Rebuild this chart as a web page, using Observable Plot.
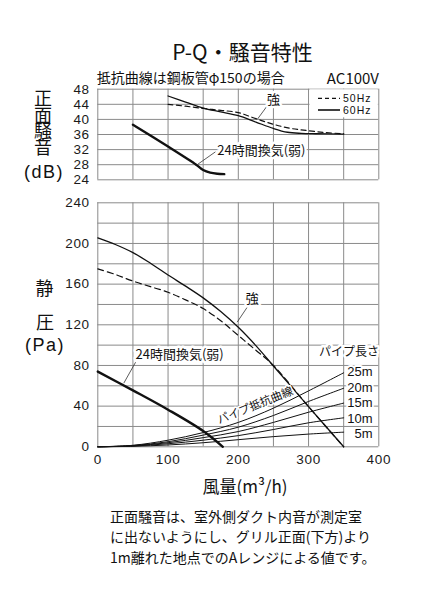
<!DOCTYPE html>
<html><head><meta charset="utf-8">
<script src="https://cdn.jsdelivr.net/npm/d3@7"></script>
<script src="https://cdn.jsdelivr.net/npm/@observablehq/plot@0.6"></script>
<style>
html,body{margin:0;padding:0;background:#fff;}
#root{position:relative;width:437px;height:596px;overflow:hidden;font-family:'Noto Sans CJK JP','Noto Sans',sans-serif;}
#root svg{position:absolute;left:0;}
</style></head><body><div id="root"></div>
<script>
// ---------- data ----------
const qTicks = [0, 100, 200, 300, 400];
const qGrid = [0, 50, 100, 150, 200, 250, 300, 350, 400];
const dbTicks = [24, 28, 32, 36, 40, 44, 48];
const paTicks = [0, 40, 80, 120, 160, 200, 240];
const paGrid = [0, 20, 40, 60, 80, 100, 120, 140, 160, 180, 200, 220, 240];

// noise (top chart)
const noiseQ60 = [100, 125, 150, 175, 200, 225, 250, 270, 290, 310, 350];
const noiseDb60 = [46.2, 44.6, 43.0, 42.0, 41.0, 39.3, 37.6, 36.6, 36.3, 36.2, 36.1];
const noiseQ50 = [100, 125, 150, 175, 200, 225, 250, 275, 300, 325, 350];
const noiseDb50 = [44.0, 43.5, 42.9, 42.4, 41.8, 40.2, 38.7, 37.6, 37.0, 36.5, 36.2];
const noiseQWeak = [50, 100, 140, 150, 160, 170, 180];
const noiseDbWeak = [38.6, 32.8, 28.0, 26.6, 25.9, 25.6, 25.5];

// P-Q (main chart)
const pqQStrong = [0, 25, 50, 75, 100, 125, 150, 175, 200, 225, 250, 300, 350];
const pqPa60 = [205.5, 199, 191, 180.5, 169, 158, 146.5, 133, 117.5, 99.5, 79.5, 39.5, 0];
const pqPa50 = [175, 169.5, 163, 157.5, 152, 144.5, 136, 124, 109.5, 95, 80, 39.5, 0];
const pqQWeak = [0, 50, 100, 150, 178];
const pqPaWeak = [74, 55.5, 36.5, 15.5, 0];

// pipe resistance curves
const pipeQ = [0, 50, 100, 150, 200, 250, 300, 350];
const pipeNames = ["25m", "20m", "15m", "10m", "5m"];
const pipe25 = [0, 1.5, 6.5, 14, 24, 38, 55, 72.8];
const pipe20 = [0, 1.2, 5, 11.5, 19.3, 30.8, 44.6, 57.6];
const pipe15 = [0, 1, 4, 9, 15, 24, 34, 43];
const pipe10 = [0, 0.8, 3, 6.5, 11, 17, 23.6, 28.5];
const pipe5 = [0, 0.5, 1.8, 4, 7, 10, 12.5, 14.4];

// ---------- build ----------
const FONT = "'Noto Sans CJK JP','Noto Sans',sans-serif";
const NUMFONT = "'Liberation Sans',Arial,sans-serif";
const GRID = "#8a8a8a";
const INK = "#111";
const CURVE = "catmull-rom";
const rows = (xs, ys) => xs.map((x, i) => ({x, y: ys[i]}));
const root = document.getElementById("root");

const halo = {fill: INK, stroke: "white", strokeWidth: 5, paintOrder: "stroke", fontFamily: FONT};
const axisStyle = {fontFamily: NUMFONT, fontSize: "13.5px", color: "#1a1a1a", background: "transparent", overflow: "visible"};
function spaceTicks(svg) {
  svg.querySelectorAll('[aria-label^="y-axis"] text, [aria-label^="x-axis"] text')
    .forEach(t => t.setAttribute("letter-spacing", "0.7"));
}

// top noise chart
const topChart = Plot.plot({
  width: 437, height: 110,
  marginLeft: 97.3, marginRight: 58.7, marginTop: 8.7, marginBottom: 10.7,
  style: axisStyle,
  x: {domain: [0, 400], axis: null},
  y: {domain: [24, 48], ticks: dbTicks, tickSize: 0, tickPadding: 8, label: null},
  marks: [
    Plot.ruleX(qGrid, {stroke: GRID}),
    Plot.ruleY(dbTicks, {stroke: GRID}),
    Plot.line(rows(noiseQ50, noiseDb50), {x: "x", y: "y", stroke: INK, strokeWidth: 1.2, strokeDasharray: "5,3.5", curve: CURVE}),
    Plot.line(rows(noiseQ60, noiseDb60), {x: "x", y: "y", stroke: INK, strokeWidth: 1.3, curve: CURVE}),
    Plot.line(rows(noiseQWeak, noiseDbWeak), {x: "x", y: "y", stroke: INK, strokeWidth: 2.4, curve: CURVE}),
    Plot.link([0], {x1: 242, y1: 43.8, x2: 227, y2: 40, stroke: "#333", strokeWidth: 0.8}),
    Plot.link([0], {x1: 167.4, y1: 31.4, x2: 142.2, y2: 28.1, stroke: "#333", strokeWidth: 0.8}),
    Plot.text(["強"], {x: 250, y: 45.3, text: d => d, fontSize: 13, ...halo}),
    Plot.text(["24時間換気(弱)"], {x: 170, y: 31.7, text: d => d, textAnchor: "start", fontSize: 13, ...halo})
  ]
});
topChart.style.top = "80px";
spaceTicks(topChart);
root.appendChild(topChart);

// main P-Q chart
const mainChart = Plot.plot({
  width: 437, height: 290,
  marginLeft: 97.3, marginRight: 58.7, marginTop: 12.3, marginBottom: 33.7,
  style: axisStyle,
  x: {domain: [0, 400], ticks: qTicks, tickSize: 0, tickPadding: 8, label: null},
  y: {domain: [0, 240], ticks: paTicks, tickSize: 0, tickPadding: 8, label: null},
  marks: [
    Plot.ruleX(qGrid, {stroke: GRID}),
    Plot.ruleY(paGrid, {stroke: GRID}),
    ...[pipe25, pipe20, pipe15, pipe10, pipe5].map(p =>
      Plot.line(rows(pipeQ, p), {x: "x", y: "y", stroke: INK, strokeWidth: 1, curve: CURVE})),
    Plot.line(rows(pqQStrong, pqPa50), {x: "x", y: "y", stroke: INK, strokeWidth: 1.2, strokeDasharray: "6,4", curve: CURVE}),
    Plot.line(rows(pqQStrong, pqPa60), {x: "x", y: "y", stroke: INK, strokeWidth: 1.3, curve: CURVE}),
    Plot.line(rows(pqQWeak, pqPaWeak), {x: "x", y: "y", stroke: INK, strokeWidth: 2.4, curve: CURVE}),
    Plot.link([0], {x1: 212.7, y1: 137.3, x2: 198.4, y2: 122.6, stroke: "#333", strokeWidth: 0.8}),
    Plot.link([0], {x1: 53.8, y1: 83.2, x2: 37, y2: 62.6, stroke: "#333", strokeWidth: 0.8}),
    Plot.text(["強"], {x: 219.8, y: 145.6, text: d => d, fontSize: 13, ...halo}),
    Plot.text(["24時間換気(弱)"], {x: 53.7, y: 90.5, text: d => d, textAnchor: "start", fontSize: 13, ...halo}),
    Plot.text(["パイプ長さ"], {x: 315, y: 93, text: d => d, textAnchor: "start", fontSize: 12, ...halo}),
    Plot.text([pipeNames.join("\n")], {x: 391, y: 43.8, text: d => d, textAnchor: "end", lineHeight: 1.2, fontSize: 13, ...halo, fontFamily: NUMFONT, strokeWidth: 4}),
    Plot.text(["パイプ抵抗曲線"], {x: 224, y: 40.6, text: d => d, rotate: -22, fontSize: 11.5, ...halo, strokeWidth: 3})
  ]
});
mainChart.style.top = "190px";
spaceTicks(mainChart);
root.appendChild(mainChart);

// overlay: titles, axis titles, legend, note
const NS = "http://www.w3.org/2000/svg";
const ov = document.createElementNS(NS, "svg");
ov.setAttribute("width", 437); ov.setAttribute("height", 596);
ov.style.top = "0px"; ov.style.pointerEvents = "none";
ov.style.fontFamily = FONT; ov.style.fill = INK;
root.appendChild(ov);
function txt(s, x, y, size, anchor = "start", extra = {}) {
  const t = document.createElementNS(NS, "text");
  t.setAttribute("x", x); t.setAttribute("y", y);
  t.setAttribute("font-size", size); t.setAttribute("text-anchor", anchor);
  for (const k in extra) t.setAttribute(k, extra[k]);
  t.textContent = s; ov.appendChild(t); return t;
}
function el(tag, attrs) {
  const e = document.createElementNS(NS, tag);
  for (const k in attrs) e.setAttribute(k, attrs[k]);
  ov.appendChild(e); return e;
}
txt("P-Q・騒音特性", 242.5, 60, 21, "middle");
txt("抵抗曲線は鋼板管φ150の場合", 96.7, 83, 14);
txt("AC100V", 379, 83.5, 15, "end");
// y titles
txt("正面騒音", 43, 89.5, 18, "start", {"writing-mode": "vertical-rl", "letter-spacing": "-1.7"});
txt("(dB)", 44, 178, 18, "middle", {"font-family": NUMFONT, "letter-spacing": "1.5"});
txt("静", 44.5, 295, 18, "middle");
txt("圧", 45, 328.5, 18, "middle");
txt("(Pa)", 45, 351, 18, "middle", {"font-family": NUMFONT, "letter-spacing": "1.5"});
// x title
txt("風量(m³/h)", 245, 493, 17, "middle");
// legend (inside top chart)
el("rect", {x: 309.5, y: 89.3, width: 68.3, height: 28, fill: "white"});
el("line", {x1: 318, x2: 340, y1: 98.3, y2: 98.3, stroke: INK, "stroke-width": 1.2, "stroke-dasharray": "4,3"});
el("line", {x1: 318, x2: 340, y1: 110, y2: 110, stroke: INK, "stroke-width": 1.6});
txt("50Hz", 343, 102, 10.5, "start", {"font-family": NUMFONT, "letter-spacing": "1"});
txt("60Hz", 343, 113.7, 10.5, "start", {"font-family": NUMFONT, "letter-spacing": "1"});
// note
const note = txt("", 110, 522, 14);
["正面騒音は、室外側ダクト内音が測定室", "に出ないようにし、グリル正面(下方)より", "1m離れた地点でのAレンジによる値です。"].forEach((s, i) => {
  const ts = document.createElementNS(NS, "tspan");
  ts.setAttribute("x", 110); ts.setAttribute("dy", i ? 20.3 : 0);
  ts.textContent = s; note.appendChild(ts);
});
</script></body></html>
